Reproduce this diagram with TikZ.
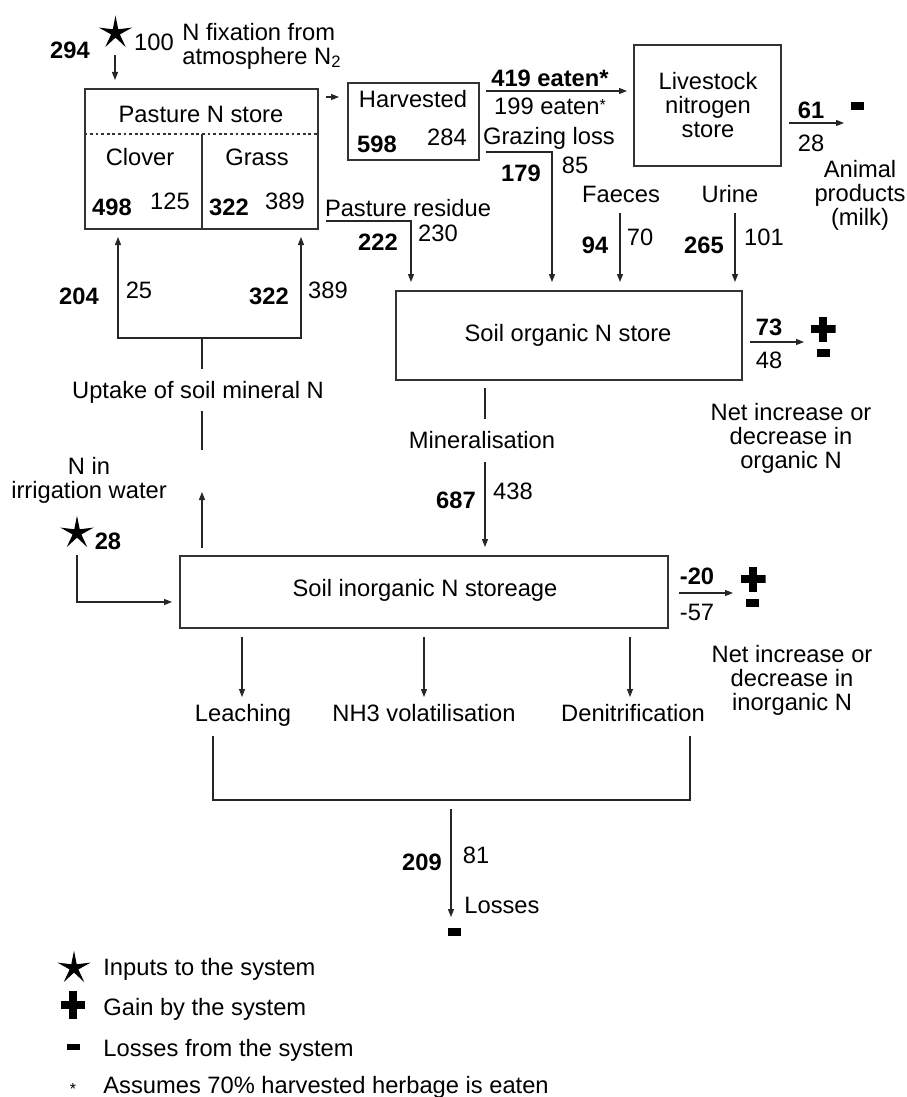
\documentclass[tikz,border=0pt]{standalone}
\usepackage{fontspec}
\setmainfont{Liberation Sans}
\usetikzlibrary{arrows.meta,shapes.geometric}
\newcommand\fsz{\fontsize{11.85}{12}\selectfont}
\newcommand\smast{\raisebox{2.2pt}{\fontsize{8}{8}\selectfont *}}
\begin{document}
\begin{tikzpicture}[x=0.5pt, y=-0.5pt, font=\fsz,
  lbl/.style={inner sep=0pt, text height=8.5pt, text depth=0pt},
  num/.style={lbl, font=\fsz\bfseries},
  ml/.style={inner sep=0pt, align=center},
  box/.style={draw=black!80, line width=0.7pt, inner sep=0pt},
  ln/.style={draw=black!85, line width=0.55pt},
  arr/.style={ln, -{Triangle[length=4pt,width=3pt]}},
  starpic/.pic={\fill[black] (-90:17.5) -- (-54:4.6) -- (-18:17.5) -- (18:4.6) -- (54:17.5) -- (90:4.6) -- (126:17.5) -- (162:4.6) -- (198:17.5) -- (234:4.6) -- cycle;},
  minussym/.style={fill=black, draw=none, minimum width=6.5pt, minimum height=4pt, inner sep=0pt},
  plussym/.style={minimum width=12.5pt, minimum height=12.5pt, inner sep=0pt,
    path picture={
      \fill[black] ([xshift=-2pt]path picture bounding box.north) rectangle ([xshift=2pt]path picture bounding box.south);
      \fill[black] ([yshift=-2.2pt]path picture bounding box.west) rectangle ([yshift=2.2pt]path picture bounding box.east);
    }}
]
\useasboundingbox (0,0) rectangle (906,1097);

% ---------- boxes ----------
\node[box, minimum width=116.5pt, minimum height=70pt] (pasture) at (201.5,159) {};
\node[box, minimum width=65.5pt, minimum height=38.5pt] (harv) at (413.5,121.5) {};
\node[box, minimum width=73.5pt, minimum height=60.5pt] (live) at (707.5,105.5) {};
\node[box, minimum width=173pt, minimum height=44.5pt] (org) at (569,335.5) {};
\node[box, minimum width=244pt, minimum height=36pt] (inorg) at (424,592) {};

% pasture internals
\draw[black!80, line width=0.55pt, dash pattern=on 1.4pt off 1.4pt] (pasture.west |- 0,134) -- (pasture.east |- 0,134);
\draw[black!80, line width=0.6pt] (202,134) -- (pasture.south -| 202,0);
\node[lbl] (tpast) at (201,114) {Pasture N store};
\node[lbl] (tclov) at (140,157) {Clover};
\node[lbl] (tgrass) at (257,157) {Grass};
\node[num] (n498) at (112,207) {498};
\node[lbl] (n125) at (170,201) {125};
\node[num] (n322a) at (229,207) {322};
\node[lbl] (n389a) at (285,201) {389};

% top: fixation
\node[num] (n294) at (70,50) {294};
\pic at (115.5,33) {starpic};
\node[lbl] (n100) at (154,42) {100};
\node[ml, anchor=west, align=left] (tfix) at (182,46) {N fixation from\\atmosphere N\textsubscript{2}};
\coordinate (fxA) at (115,55); \coordinate (fxB) at (115,80);
\draw[arr] (fxA) -- (fxB);

% pasture -> harvested
\coordinate (phA) at (326,97); \coordinate (phB) at (339,97);
\draw[arr] (phA) -- (phB);
\node[lbl] (tharv) at (413,99) {Harvested};
\node[num] (n598) at (377,144) {598};
\node[lbl] (n284) at (447,137) {284};

% eaten
\coordinate (eatA) at (486,91); \coordinate (eatB) at (627,91);
\draw[arr] (eatA) -- (eatB);
\node[num] (n419) at (550,78) {419 eaten*};
\node[lbl] (n199) at (550,106) {199 eaten\smast};

% livestock
\node[ml] (tlive) at (708,105) {Livestock\\nitrogen\\store};
\coordinate (milkA) at (789,123); \coordinate (milkB) at (844,123);
\draw[arr] (milkA) -- (milkB);
\node[num] (n61) at (811,110) {61};
\node[lbl] (n28a) at (811,143) {28};
\node[minussym] (mi1) at (857,106) {};
\node[ml] (tmilk) at (860,195) {Animal\\products\\(milk)};

% grazing loss
\node[lbl] (tgraz) at (549,136) {Grazing loss};
\coordinate (grA) at (486,152); \coordinate (grB) at (552,152); \coordinate (grC) at (552,282);
\draw[arr] (grA) -- (grB) -- (grC);
\node[num] (n179) at (521,173) {179};
\node[lbl] (n85) at (575,165) {85};

% faeces, urine
\node[lbl] (tfae) at (621,194) {Faeces};
\coordinate (faA) at (620,213); \coordinate (faB) at (620,282);
\draw[arr] (faA) -- (faB);
\node[num] (n94) at (595,245) {94};
\node[lbl] (n70) at (640,237) {70};
\node[lbl] (turi) at (730,194) {Urine};
\coordinate (urA) at (735,213); \coordinate (urB) at (735,282);
\draw[arr] (urA) -- (urB);
\node[num] (n265) at (704,245) {265};
\node[lbl] (n101) at (764,237) {101};

% pasture residue
\node[lbl] (tres) at (408,208) {Pasture residue};
\coordinate (prA) at (326,221); \coordinate (prB) at (411,221); \coordinate (prC) at (411,282);
\draw[arr] (prA) -- (prB) -- (prC);
\node[num] (n222) at (378,242) {222};
\node[lbl] (n230) at (438,233) {230};

% soil organic
\node[lbl] (torg) at (568,333) {Soil organic N store};
\coordinate (orgA) at (750,342); \coordinate (orgB) at (804,342);
\draw[arr] (orgA) -- (orgB);
\node[num] (n73) at (769,327) {73};
\node[lbl] (n48) at (769,360) {48};
\node[plussym] (pl1) at (823,329) {};
\node[minussym] (mi2) at (823,353) {};
\node[ml] (tnet1) at (791,438) {Net increase or\\decrease in\\organic N};

% uptake
\coordinate (upL) at (118,237); \coordinate (upLb) at (118,338);
\coordinate (upRb) at (301,338); \coordinate (upR) at (301,237);
\draw[ln, {Triangle[length=4pt,width=3pt]}-{Triangle[length=4pt,width=3pt]}] (upL) -- (upLb) -- (upRb) -- (upR);
\node[num] (n204) at (79,296) {204};
\node[lbl] (n25) at (139,290) {25};
\node[num] (n322b) at (269,296) {322};
\node[lbl] (n389b) at (328,290) {389};
\coordinate (upA) at (202,338); \coordinate (upB) at (202,369);
\coordinate (upC) at (202,411); \coordinate (upD) at (202,450);
\coordinate (upE) at (202,548); \coordinate (upF) at (202,492);
\draw[ln] (upA) -- (upB);
\node[lbl] (tupt) at (198,390) {Uptake of soil mineral N};
\draw[ln] (upC) -- (upD);
\draw[arr] (upE) -- (upF);

% irrigation
\node[ml] (tirr) at (89,480) {N in\\irrigation water};
\pic at (77,533) {starpic};
\node[num] (n28b) at (108,541) {28};
\coordinate (irA) at (77,555); \coordinate (irB) at (77,602); \coordinate (irC) at (172,602);
\draw[arr] (irA) -- (irB) -- (irC);

% mineralisation
\coordinate (miA) at (485,388); \coordinate (miB) at (485,419);
\coordinate (miC) at (485,462); \coordinate (miD) at (485,547);
\draw[ln] (miA) -- (miB);
\node[lbl] (tmin) at (482,440) {Mineralisation};
\draw[arr] (miC) -- (miD);
\node[num] (n687) at (456,500) {687};
\node[lbl] (n438) at (513,491) {438};

% soil inorganic
\node[lbl] (tinorg) at (425,588) {Soil inorganic N storeage};
\coordinate (inA) at (679,593); \coordinate (inB) at (733,593);
\draw[arr] (inA) -- (inB);
\node[num] (n20) at (697,576) {-20};
\node[lbl] (n57) at (697,612) {-57};
\node[plussym] (pl2) at (753,579) {};
\node[minussym] (mi3) at (752,603) {};
\node[ml] (tnet2) at (792,680) {Net increase or\\decrease in\\inorganic N};

% losses
\coordinate (lcA) at (242,637); \coordinate (lcB) at (242,697);
\coordinate (nhA) at (424,637); \coordinate (nhB) at (424,697);
\coordinate (dnA) at (630,637); \coordinate (dnB) at (630,697);
\draw[arr] (lcA) -- (lcB);
\draw[arr] (nhA) -- (nhB);
\draw[arr] (dnA) -- (dnB);
\node[lbl] (tleach) at (243,713) {Leaching};
\node[lbl] (tnh3) at (424,713) {NH3 volatilisation};
\node[lbl] (tden) at (633,713) {Denitrification};
\coordinate (brA) at (213,736); \coordinate (brB) at (213,800);
\coordinate (brC) at (690,800); \coordinate (brD) at (690,736);
\draw[ln] (brA) -- (brB) -- (brC) -- (brD);
\coordinate (loA) at (451,809); \coordinate (loB) at (451,917);
\draw[arr] (loA) -- (loB);
\node[num] (n209) at (422,862) {209};
\node[lbl] (n81) at (476,855) {81};
\node[lbl, anchor=west] (tloss) at (464,905) {Losses};
\node[minussym] (mi4) at (454,932) {};

% legend
\pic at (74,968) {starpic};
\node[lbl, anchor=west] (lg1) at (103,967) {Inputs to the system};
\node[plussym, minimum width=12pt, minimum height=14pt] (pl3) at (73,1005) {};
\node[lbl, anchor=west] (lg2) at (103,1007) {Gain by the system};
\node[minussym, minimum height=3.2pt] (mi5) at (73,1047) {};
\node[lbl, anchor=west] (lg3) at (103,1048) {Losses from the system};
\node[inner sep=0pt, anchor=base, font=\fontsize{8}{8}\selectfont] (ast) at (73,1094) {*};
\node[lbl, anchor=west] (lg4) at (103,1085) {Assumes 70\% harvested herbage is eaten};
\end{tikzpicture}
\end{document}
